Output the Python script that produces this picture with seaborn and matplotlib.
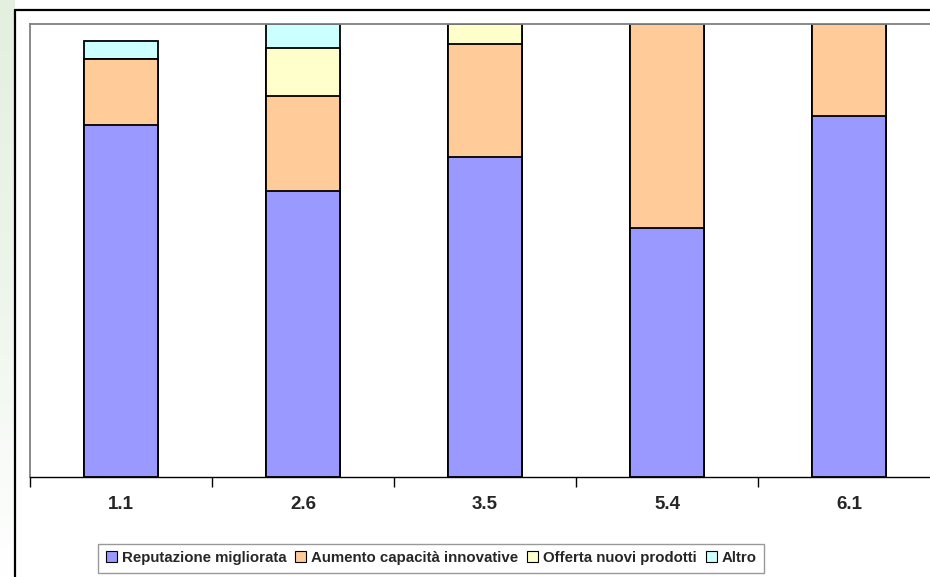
import numpy as np
import pandas as pd
import matplotlib
matplotlib.use("Agg")
import matplotlib.pyplot as plt
from matplotlib.patches import Patch
from matplotlib.lines import Line2D
import seaborn as sns

# values (percent of respondents)
categories = ["1.1", "2.6", "3.5", "5.4", "6.1"]
reputazione = [77.7, 63.1, 70.6, 55.0, 79.7]
aumento = [14.6, 21.0, 25.0, 45.0, 20.3]
offerta = [0.0, 10.6, 4.4, 0.0, 0.0]
altro = [3.9, 5.3, 0.0, 0.0, 0.0]

series_names = ["Reputazione migliorata", "Aumento capacità innovative",
                "Offerta nuovi prodotti", "Altro"]
colors = ["#9999FF", "#FFCC99", "#FFFFCC", "#CCFFFF"]

sns.set_style("white")
plt.rcParams["font.family"] = ["Liberation Sans", "DejaVu Sans"]

df = pd.DataFrame({"cat": categories, "s0": reputazione, "s1": aumento,
                   "s2": offerta, "s3": altro})
# cumulative tops, so drawing from the tallest down gives a stacked look
cum = df[["s0", "s1", "s2", "s3"]].cumsum(axis=1)

fig = plt.figure(figsize=(9.3, 5.77), dpi=100)

# faint green strip at the far left of the slide
bg = fig.add_axes([0, 0, 14 / 930, 1])
grad = np.linspace(0, 1, 200).reshape(-1, 1)
bg.imshow(grad, aspect="auto", cmap=matplotlib.colors.LinearSegmentedColormap.from_list(
    "g", ["#ffffff", "#eef5ec", "#e4efdf"]), origin="lower")
bg.axis("off")

ax = fig.add_axes([30 / 930, 100 / 577, 910 / 930, 453 / 577])
for i in [3, 2, 1, 0]:
    sns.barplot(x=df["cat"], y=cum[f"s{i}"], color=colors[i], saturation=1,
                width=0.405, edgecolor="black", linewidth=1.3, ax=ax, zorder=2)

ax.set_ylim(0, 100)
ax.set_xlim(-0.5, 4.5)
ax.set_xlabel("")
ax.set_ylabel("")
ax.set_yticks([])
ax.set_xticks(range(len(categories)))
ax.set_xticklabels(categories, fontsize=13.5, fontweight="bold")
ax.tick_params(axis="x", which="major", length=0, pad=14)
ax.set_xticks(np.arange(-0.5, 5, 1), minor=True)
ax.tick_params(axis="x", which="minor", bottom=True, length=7, width=1,
               color="black", direction="out")
for side in ["left", "top", "right"]:
    ax.spines[side].set_color("#808080")
    ax.spines[side].set_linewidth(1.3)
ax.spines["bottom"].set_color("black")
ax.spines["bottom"].set_linewidth(1)

# slide frame
fig.add_artist(Line2D([14.5 / 930, 14.5 / 930], [0, 1 - 10 / 577], color="black",
                      lw=1.6, transform=fig.transFigure))
fig.add_artist(Line2D([14.5 / 930, 1], [1 - 10 / 577, 1 - 10 / 577], color="black",
                      lw=1.6, transform=fig.transFigure))

handles = [Patch(facecolor=c, edgecolor="black", linewidth=0.8) for c in colors]
leg = fig.legend(handles, series_names, loc="center", ncol=4,
                 bbox_to_anchor=(431 / 930, 1 - 558 / 577),
                 prop={"weight": "bold", "size": 10.8}, frameon=True, fancybox=False,
                 handlelength=0.75, handleheight=0.75, handletextpad=0.3,
                 columnspacing=0.6, borderpad=0.5, borderaxespad=0)
leg.get_frame().set_edgecolor("#808080")
leg.get_frame().set_linewidth(1)

fig.savefig("out.png", dpi=100)
